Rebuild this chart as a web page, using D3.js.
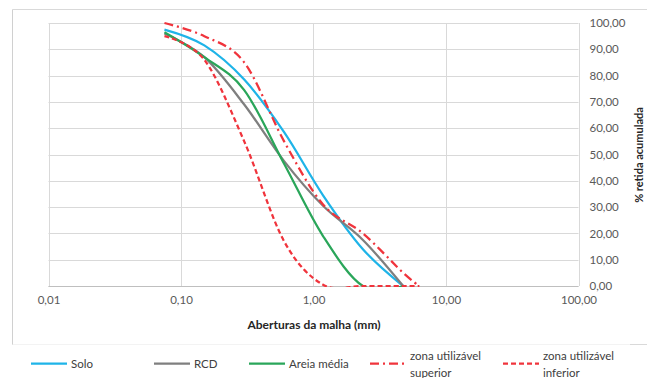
<!DOCTYPE html>
<html>
<head>
<meta charset="utf-8">
<script src="https://cdn.jsdelivr.net/npm/d3@7"></script>
<style>
  body { margin: 0; background: #fff; }
  svg { display: block; font-family: Lato, "Open Sans", sans-serif; }
</style>
</head>
<body>
<div id="chart"></div>
<script>
// sieve openings (mm)
const sieves = [0.075, 0.15, 0.3, 0.6, 1.18, 2.36, 4.75, 6.3];
const solo = [97.5, 91.5, 78.5, 58.5, 34.5, 14, 0];
const rcd = [96, 87, 69, 47.5, 30.5, 17.5, 0];
const areia = [96.5, 87, 74.5, 46.5, 19, 0, 0];
const zonaSup = [100, 95, 85, 55, 31, 20, 5, 0];
const zonaInf = [95, 86, 55, 17, 0.5, 0, 0, 0];
const xTicks = [0.01, 0.1, 1, 10, 100];
const yTicks = [0, 10, 20, 30, 40, 50, 60, 70, 80, 90, 100];

const series = [
  { name: 'Solo', values: solo, color: '#1fb4e8', dash: null },
  { name: 'RCD', values: rcd, color: '#7f7f7f', dash: null },
  { name: 'Areia média', values: areia, color: '#2aa65a', dash: null },
  { name: ['zona utilizável', 'superior'], values: zonaSup, color: '#f0343c', dash: '9,4,2,4' },
  { name: ['zona utilizável', 'inferior'], values: zonaInf, color: '#f0343c', dash: '5,3' }
];

const width = 658, height = 378;
const svg = d3.select('#chart').append('svg')
  .attr('width', width)
  .attr('height', height);

// chart border
svg.append('line').attr('x1', 12.5).attr('x2', 647).attr('y1', 9.5).attr('y2', 9.5).attr('stroke', '#d9d9d9');
svg.append('line').attr('x1', 12.5).attr('x2', 12.5).attr('y1', 9.5).attr('y2', 345).attr('stroke', '#d0d0d0');
svg.append('line').attr('x1', 12.5).attr('x2', 630).attr('y1', 344.5).attr('y2', 344.5).attr('stroke', '#f3f3f3');
svg.append('line').attr('x1', 630).attr('x2', 647).attr('y1', 344.5).attr('y2', 344.5).attr('stroke', '#d9d9d9');

const x = d3.scaleLog().domain([0.01, 100]).range([48.5, 578.5]);
const y = d3.scaleLinear().domain([0, 100]).range([286, 23]);

// grid
svg.append('g').selectAll('line').data(yTicks).join('line')
  .attr('x1', x(0.01)).attr('x2', x(100))
  .attr('y1', d => Math.round(y(d)) + 0.5).attr('y2', d => Math.round(y(d)) + 0.5)
  .attr('stroke', '#d9d9d9').attr('stroke-width', 1);
svg.append('g').selectAll('line').data(xTicks).join('line')
  .attr('x1', d => Math.round(x(d)) + 0.5).attr('x2', d => Math.round(x(d)) + 0.5)
  .attr('y1', y(100)).attr('y2', y(0))
  .attr('stroke', '#d9d9d9').attr('stroke-width', 1);
svg.append('line')
  .attr('x1', x(0.01)).attr('x2', x(100))
  .attr('y1', Math.round(y(0)) + 0.5).attr('y2', Math.round(y(0)) + 0.5)
  .attr('stroke', '#bfbfbf');

const fmt = v => d3.format('.2f')(v).replace('.', ',');

// x axis labels
svg.append('g')
  .attr('transform', `translate(0,${y(0)})`)
  .call(d3.axisBottom(x).tickValues(xTicks).tickFormat(fmt).tickSize(0).tickPadding(10))
  .call(g => g.select('.domain').remove())
  .call(g => g.selectAll('text').attr('fill', '#595959').style('font-size', '11.5px').style('font-family', 'Lato, sans-serif'));

// y axis labels (right)
svg.append('g')
  .attr('transform', `translate(${x(100)},0)`)
  .call(d3.axisRight(y).tickValues(yTicks).tickFormat(fmt).tickSize(0).tickPadding(11))
  .call(g => g.select('.domain').remove())
  .call(g => g.selectAll('text').attr('fill', '#595959').style('font-size', '11.5px').style('font-family', 'Lato, sans-serif'));

// axis titles
svg.append('text')
  .attr('x', 314).attr('y', 329)
  .attr('text-anchor', 'middle')
  .style('font-size', '12px').style('font-weight', 'bold').attr('fill', '#262626')
  .text('Aberturas da malha (mm)');
svg.append('text')
  .attr('transform', 'translate(643,155) rotate(-90)')
  .attr('text-anchor', 'middle')
  .style('font-size', '11px').style('font-weight', 'bold').attr('fill', '#262626')
  .text('% retida acumulada');

// curves (Excel-like smoothing), clipped to the plot area
svg.append('clipPath').attr('id', 'plot')
  .append('rect')
  .attr('x', x(0.01)).attr('y', y(100) - 5)
  .attr('width', x(100) - x(0.01)).attr('height', y(0) - y(100) + 6);

const line = d3.line()
  .x((d, i) => x(sieves[i]))
  .y(d => y(d))
  .curve(d3.curveCardinal.tension(0));

svg.append('g').attr('clip-path', 'url(#plot)')
  .selectAll('path').data(series).join('path')
  .attr('d', s => line(s.values))
  .attr('fill', 'none')
  .attr('stroke', s => s.color)
  .attr('stroke-width', 2.25)
  .attr('stroke-dasharray', s => s.dash);

// legend
const legendPos = [
  { lx: 31, tx: 71 },
  { lx: 154, tx: 194 },
  { lx: 249, tx: 289 },
  { lx: 370, tx: 410 },
  { lx: 503, tx: 543 }
];
const legend = svg.append('g');
series.forEach((s, i) => {
  const p = legendPos[i];
  legend.append('line')
    .attr('x1', p.lx).attr('x2', p.lx + 36)
    .attr('y1', 363.5).attr('y2', 363.5)
    .attr('stroke', s.color).attr('stroke-width', 2.25)
    .attr('stroke-dasharray', s.dash);
  const t = legend.append('text')
    .attr('x', p.tx)
    .style('font-size', '11.5px').attr('fill', '#404040');
  if (Array.isArray(s.name)) {
    t.append('tspan').attr('x', p.tx).attr('y', 360).text(s.name[0]);
    t.append('tspan').attr('x', p.tx).attr('y', 377).text(s.name[1]);
  } else {
    t.attr('y', 368).text(s.name);
  }
});
</script>
</body>
</html>
